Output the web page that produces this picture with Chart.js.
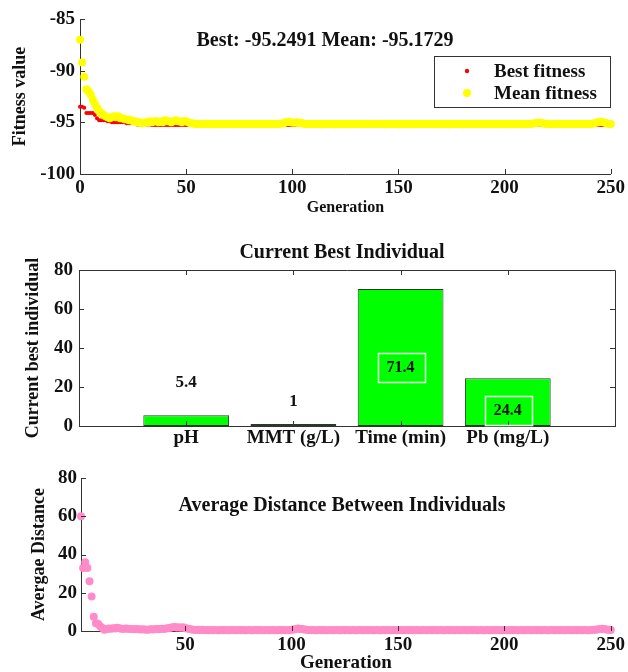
<!DOCTYPE html>
<html>
<head>
<meta charset="utf-8">
<script src="https://cdn.jsdelivr.net/npm/chart.js@4.4.1/dist/chart.umd.min.js"></script>
<style>
  html, body { margin: 0; padding: 0; background: #fff; }
  body { width: 628px; height: 672px; position: relative; overflow: hidden; }
  canvas { position: absolute; left: 0; }
</style>
</head>
<body>
<canvas id="fitness-chart" width="628" height="218" style="top:0"></canvas>
<canvas id="indiv-chart" width="628" height="222" style="top:228px"></canvas>
<canvas id="dist-chart" width="628" height="216" style="top:458px"></canvas>
<script>
// generation axis ticks
const genTicks = [0, 50, 100, 150, 200, 250];
const distGenTicks = [50, 100, 150, 200, 250];
const fitnessTicks = [-100, -95, -90, -85];
const indivTicks = [0, 20, 40, 60, 80];
const distTicks = [0, 20, 40, 60, 80];

// best fitness, generation 0..250
const bestFitness = [
  -93.5, -93.5, -93.6, -94.1, -94.1, -94.1, -94.1, -94.3, -94.6, -94.8,
  -94.8, -94.8, -94.8, -94.9, -94.9, -95.0, -95.0, -95.0, -95.0, -95.0,
  -95.0, -95.0, -95.1, -95.1, -95.1, -95.1, -95.1, -95.2, -95.2, -95.2,
  -95.2, -95.2, -95.2, -95.2, -95.25, -95.25, -95.25, -95.25, -95.25, -95.25,
  -95.25, -95.25, -95.25, -95.25, -95.25, -95.25, -95.25, -95.25, -95.25, -95.25,
  -95.25, -95.25, -95.25, -95.25, -95.25, -95.25, -95.25, -95.25, -95.25, -95.25,
  -95.25, -95.25, -95.25, -95.25, -95.25, -95.25, -95.25, -95.25, -95.25, -95.25,
  -95.25, -95.25, -95.25, -95.25, -95.25, -95.25, -95.25, -95.25, -95.25, -95.25,
  -95.25, -95.25, -95.25, -95.25, -95.25, -95.25, -95.25, -95.25, -95.25, -95.25,
  -95.25, -95.25, -95.25, -95.25, -95.25, -95.25, -95.25, -95.25, -95.25, -95.25,
  -95.25, -95.25, -95.25, -95.25, -95.25, -95.25, -95.25, -95.25, -95.25, -95.25,
  -95.25, -95.25, -95.25, -95.25, -95.25, -95.25, -95.25, -95.25, -95.25, -95.25,
  -95.25, -95.25, -95.25, -95.25, -95.25, -95.25, -95.25, -95.25, -95.25, -95.25,
  -95.25, -95.25, -95.25, -95.25, -95.25, -95.25, -95.25, -95.25, -95.25, -95.25,
  -95.25, -95.25, -95.25, -95.25, -95.25, -95.25, -95.25, -95.25, -95.25, -95.25,
  -95.25, -95.25, -95.25, -95.25, -95.25, -95.25, -95.25, -95.25, -95.25, -95.25,
  -95.25, -95.25, -95.25, -95.25, -95.25, -95.25, -95.25, -95.25, -95.25, -95.25,
  -95.25, -95.25, -95.25, -95.25, -95.25, -95.25, -95.25, -95.25, -95.25, -95.25,
  -95.25, -95.25, -95.25, -95.25, -95.25, -95.25, -95.25, -95.25, -95.25, -95.25,
  -95.25, -95.25, -95.25, -95.25, -95.25, -95.25, -95.25, -95.25, -95.25, -95.25,
  -95.25, -95.25, -95.25, -95.25, -95.25, -95.25, -95.25, -95.25, -95.25, -95.25,
  -95.25, -95.25, -95.25, -95.25, -95.25, -95.25, -95.25, -95.25, -95.25, -95.25,
  -95.25, -95.25, -95.25, -95.25, -95.25, -95.25, -95.25, -95.25, -95.25, -95.25,
  -95.25, -95.25, -95.25, -95.25, -95.25, -95.25, -95.25, -95.25, -95.25, -95.25,
  -95.25, -95.25, -95.25, -95.25, -95.25, -95.25, -95.25, -95.25, -95.25, -95.25,
  -95.2491
];

// mean fitness, generation 0..250
const meanFitness = [
  -87.0, -89.2, -90.6, -91.8, -92.0, -92.3, -92.8, -93.2, -93.6, -93.9,
  -94.1, -94.3, -94.4, -94.5, -94.6, -94.5, -94.4, -94.5, -94.4, -94.6,
  -94.6, -94.7, -94.7, -94.8, -94.8, -94.9, -94.9, -95.0, -95.0, -95.1,
  -95.1, -95.0, -95.0, -94.9, -95.0, -94.9, -94.9, -95.0, -94.9, -95.0,
  -94.8, -94.9, -94.9, -95.0, -94.9, -94.8, -94.9, -94.9, -95.0, -94.9,
  -94.9, -95.0, -95.1, -95.1, -95.15, -95.17, -95.17, -95.18, -95.17, -95.17,
  -95.17, -95.18, -95.17, -95.16, -95.17, -95.18, -95.17, -95.17, -95.16, -95.17,
  -95.17, -95.17, -95.18, -95.17, -95.16, -95.17, -95.17, -95.18, -95.17, -95.17,
  -95.16, -95.17, -95.17, -95.18, -95.17, -95.17, -95.16, -95.17, -95.18, -95.17,
  -95.17, -95.17, -95.16, -95.17, -95.15, -95.12, -95.08, -95.0, -94.95, -94.98,
  -95.02, -95.05, -95.0, -95.08, -95.05, -95.12, -95.16, -95.17, -95.17, -95.18,
  -95.17, -95.17, -95.16, -95.17, -95.18, -95.17, -95.17, -95.16, -95.17, -95.17,
  -95.18, -95.17, -95.17, -95.16, -95.17, -95.17, -95.18, -95.17, -95.17, -95.16,
  -95.17, -95.17, -95.18, -95.17, -95.17, -95.16, -95.17, -95.17, -95.18, -95.17,
  -95.17, -95.16, -95.17, -95.17, -95.18, -95.17, -95.17, -95.16, -95.17, -95.17,
  -95.18, -95.17, -95.17, -95.16, -95.17, -95.17, -95.18, -95.17, -95.17, -95.16,
  -95.17, -95.17, -95.18, -95.17, -95.17, -95.16, -95.17, -95.17, -95.18, -95.17,
  -95.17, -95.16, -95.17, -95.17, -95.18, -95.17, -95.17, -95.16, -95.17, -95.17,
  -95.18, -95.17, -95.17, -95.16, -95.17, -95.17, -95.18, -95.17, -95.17, -95.16,
  -95.17, -95.17, -95.18, -95.17, -95.17, -95.16, -95.17, -95.17, -95.18, -95.17,
  -95.16, -95.17, -95.17, -95.18, -95.17, -95.17, -95.16, -95.17, -95.17, -95.18,
  -95.17, -95.17, -95.16, -95.14, -95.1, -95.06, -95.03, -95.05, -95.1, -95.14,
  -95.17, -95.17, -95.18, -95.17, -95.17, -95.16, -95.17, -95.17, -95.18, -95.17,
  -95.17, -95.16, -95.17, -95.17, -95.18, -95.17, -95.17, -95.16, -95.17, -95.17,
  -95.17, -95.16, -95.12, -95.05, -94.98, -94.95, -94.97, -95.02, -95.1, -95.15,
  -95.1729
];

// current best individual
const paramNames = ['pH', 'MMT (g/L)', 'Time (min)', 'Pb (mg/L)'];
const paramValues = [5.5, 1, 70.3, 24.5];
const paramLabels = ['5.4', '1', '71.4', '24.4'];

// average distance, generation 1..250
const avgDistance = [
  60, 33, 36, 33, 26, 18, 7.5, 4, 3.8, 2.5,
  1.6, 0.6, 1.0, 1.3, 1.2, 1.5, 1.3, 1.7, 1.4, 1.2,
  1.1, 1.3, 1.2, 1.0, 1.1, 0.9, 1.0, 0.9, 0.8, 0.9,
  0.8, 0.7, 0.8, 0.9, 0.8, 1.0, 1.1, 1.0, 1.2, 1.1,
  1.3, 1.5, 1.7, 2.0, 2.1, 1.8, 1.9, 1.7, 2.0, 1.5,
  1.3, 1.0, 0.8, 0.6, 0.5, 0.6, 0.5, 0.6, 0.5, 0.5,
  0.4, 0.5, 0.4, 0.5, 0.4, 0.4, 0.5, 0.4, 0.5, 0.4,
  0.4, 0.5, 0.4, 0.4, 0.5, 0.4, 0.5, 0.4, 0.4, 0.5,
  0.4, 0.4, 0.5, 0.4, 0.5, 0.4, 0.4, 0.5, 0.4, 0.4,
  0.5, 0.4, 0.4, 0.5, 0.4, 0.5, 0.4, 0.4, 0.5, 0.6,
  0.8, 1.1, 1.3, 1.1, 1.0, 0.8, 0.6, 0.5, 0.4, 0.5,
  0.4, 0.4, 0.5, 0.4, 0.5, 0.4, 0.4, 0.5, 0.4, 0.4,
  0.5, 0.4, 0.4, 0.5, 0.4, 0.5, 0.4, 0.4, 0.5, 0.4,
  0.4, 0.5, 0.4, 0.4, 0.5, 0.4, 0.5, 0.4, 0.4, 0.5,
  0.4, 0.4, 0.5, 0.4, 0.5, 0.4, 0.4, 0.5, 0.4, 0.4,
  0.5, 0.4, 0.4, 0.5, 0.4, 0.5, 0.4, 0.4, 0.5, 0.4,
  0.4, 0.5, 0.4, 0.4, 0.5, 0.4, 0.5, 0.4, 0.4, 0.5,
  0.4, 0.4, 0.5, 0.4, 0.5, 0.4, 0.4, 0.5, 0.4, 0.4,
  0.5, 0.4, 0.4, 0.5, 0.4, 0.5, 0.4, 0.4, 0.5, 0.4,
  0.4, 0.5, 0.4, 0.4, 0.5, 0.4, 0.5, 0.4, 0.4, 0.5,
  0.4, 0.4, 0.5, 0.4, 0.5, 0.4, 0.4, 0.5, 0.4, 0.4,
  0.5, 0.4, 0.4, 0.5, 0.4, 0.5, 0.4, 0.4, 0.5, 0.4,
  0.4, 0.5, 0.4, 0.4, 0.5, 0.4, 0.5, 0.4, 0.4, 0.5,
  0.4, 0.4, 0.5, 0.4, 0.5, 0.4, 0.4, 0.5, 0.4, 0.4,
  0.5, 0.6, 0.7, 0.9, 1.1, 1.2, 1.0, 0.8, 0.6, 0.5
];

const serif = '"Liberation Serif", "Times New Roman", serif';
Chart.defaults.font.family = serif;
Chart.defaults.font.weight = 'bold';
Chart.defaults.font.size = 19;
Chart.defaults.color = '#111';

const axisColor = '#333';

// matlab style: ticks pointing into the plot, optional full box
function matlabAxes(xVals, yVals, box) {
  return {
    id: 'matlabAxes',
    afterDatasetsDraw(chart) {
      const {ctx, chartArea: a, scales: {x, y}} = chart;
      ctx.save();
      ctx.strokeStyle = axisColor;
      ctx.lineWidth = 1;
      ctx.beginPath();
      xVals.forEach(v => {
        const p = Math.round(x.getPixelForValue(v)) + 0.5;
        ctx.moveTo(p, a.bottom); ctx.lineTo(p, a.bottom - 5);
        if (box) { ctx.moveTo(p, a.top); ctx.lineTo(p, a.top + 5); }
      });
      yVals.forEach(v => {
        const p = Math.round(y.getPixelForValue(v)) + 0.5;
        ctx.moveTo(a.left, p); ctx.lineTo(a.left + 5, p);
        if (box) { ctx.moveTo(a.right, p); ctx.lineTo(a.right - 5, p); }
      });
      if (box) {
        ctx.rect(Math.round(a.left) + 0.5, Math.round(a.top) + 0.5,
                 Math.round(a.right - a.left), Math.round(a.bottom - a.top));
      }
      ctx.stroke();
      ctx.restore();
    }
  };
}

function overlay(draw) {
  return {
    id: 'overlay',
    afterDraw(chart) {
      const ctx = chart.ctx;
      ctx.save();
      draw(chart, ctx);
      ctx.restore();
    }
  };
}

function baseScale(extra) {
  return Object.assign({
    grid: { display: false, drawTicks: false, tickLength: 0 },
    border: { display: true, color: axisColor, width: 1 },
  }, extra);
}

const commonOpts = {
  responsive: false,
  animation: false,
  events: [],
  plugins: { legend: { display: false }, tooltip: { enabled: false } }
};

// ---------- fitness ----------
new Chart(document.getElementById('fitness-chart'), {
  type: 'scatter',
  data: {
    datasets: [{
      label: 'Best fitness',
      data: bestFitness.map((v, i) => ({x: i, y: v})),
      backgroundColor: '#ff0000',
      borderWidth: 0,
      pointRadius: 2,
      order: 2,
      clip: false
    }, {
      label: 'Mean fitness',
      data: meanFitness.map((v, i) => ({x: i, y: v})),
      backgroundColor: '#ffff00',
      borderWidth: 0,
      pointRadius: 4,
      order: 1,
      clip: false
    }]
  },
  options: {
    ...commonOpts,
    layout: { padding: { top: 19, right: 16, left: 0, bottom: 0 } },
    scales: {
      x: baseScale({
        type: 'linear', min: 0, max: 250,
        afterFit: s => { s.height = 44; },
        afterBuildTicks: s => { s.ticks = genTicks.map(v => ({value: v})); },
        ticks: { padding: 3, maxRotation: 0, autoSkip: false },
        title: { display: true, text: 'Generation', font: { size: 16 }, padding: { top: 0, bottom: 1 } }
      }),
      y: baseScale({
        min: -100, max: -85,
        afterFit: s => { s.width = 80; },
        afterBuildTicks: s => { s.ticks = fitnessTicks.map(v => ({value: v})); },
        ticks: { padding: 5 },
        title: { display: true, text: 'Fitness value', font: { size: 18 }, padding: { top: 10, bottom: 0 } }
      })
    }
  },
  plugins: [matlabAxes(genTicks, fitnessTicks, false), overlay((chart, ctx) => {
    ctx.fillStyle = '#111';
    ctx.font = 'bold 20px ' + serif;
    ctx.textAlign = 'center';
    ctx.textBaseline = 'middle';
    ctx.fillText('Best: -95.2491 Mean: -95.1729', 325, 41);
    // legend
    ctx.strokeStyle = axisColor;
    ctx.lineWidth = 1;
    ctx.strokeRect(434.5, 56.5, 176, 51);
    ctx.fillStyle = '#ff0000';
    ctx.beginPath(); ctx.arc(467, 71, 2.2, 0, Math.PI * 2); ctx.fill();
    ctx.fillStyle = '#ffff00';
    ctx.beginPath(); ctx.arc(467, 93, 4, 0, Math.PI * 2); ctx.fill();
    ctx.fillStyle = '#111';
    ctx.font = 'bold 19px ' + serif;
    ctx.textAlign = 'left';
    ctx.fillText('Best fitness', 494, 72);
    ctx.fillText('Mean fitness', 494, 94);
  })]
});

// ---------- current best individual ----------
new Chart(document.getElementById('indiv-chart'), {
  type: 'bar',
  data: {
    datasets: [{
      data: paramValues.map((v, i) => ({x: i + 1, y: v})),
      backgroundColor: '#00ff00',
      borderColor: '#2a3a2a',
      borderWidth: 1,
      borderSkipped: false,
      barPercentage: 1,
      categoryPercentage: 0.8
    }]
  },
  options: {
    ...commonOpts,
    layout: { padding: { top: 42, right: 13, left: 0, bottom: 0 } },
    scales: {
      x: baseScale({
        type: 'linear', min: 0, max: 5, offset: false,
        grid: { display: false, drawTicks: false, tickLength: 0, offset: false },
        afterFit: s => { s.height = 24; },
        afterBuildTicks: s => { s.ticks = paramNames.map((n, i) => ({value: i + 1})); },
        ticks: { padding: 1, maxRotation: 0, autoSkip: false, callback: v => paramNames[v - 1] || '' }
      }),
      y: baseScale({
        min: 0, max: 80,
        afterFit: s => { s.width = 79; },
        afterBuildTicks: s => { s.ticks = indivTicks.map(v => ({value: v})); },
        ticks: { padding: 6 },
        title: { display: true, text: 'Current best individual', font: { size: 18 }, padding: { top: 23, bottom: 0 } }
      })
    }
  },
  plugins: [matlabAxes([1, 2, 3, 4], indivTicks, true), overlay((chart, ctx) => {
    const {x, y} = chart.scales;
    ctx.fillStyle = '#111';
    ctx.textAlign = 'center';
    ctx.textBaseline = 'middle';
    ctx.font = 'bold 20px ' + serif;
    ctx.fillText('Current Best Individual', 342, 25);
    // value labels: [value level, boxed]
    const place = [[22.6, false], [12.8, false], [30.3, true], [8.2, true]];
    paramLabels.forEach((t, i) => {
      const px = x.getPixelForValue(i + 1);
      const py = y.getPixelForValue(place[i][0]);
      if (place[i][1]) {
        ctx.strokeStyle = '#e8ffe8';
        ctx.lineWidth = 1.5;
        ctx.strokeRect(Math.round(px - 23) + 0.5, Math.round(py - 14) + 0.5, 47, 29);
        ctx.font = 'bold 16px ' + serif;
      } else {
        ctx.font = 'bold 17px ' + serif;
      }
      ctx.fillStyle = '#111';
      ctx.fillText(t, px, py + 1);
    });
  })]
});

// ---------- average distance ----------
new Chart(document.getElementById('dist-chart'), {
  type: 'scatter',
  data: {
    datasets: [{
      data: avgDistance.map((v, i) => ({x: i + 1, y: v})),
      backgroundColor: '#ff8cc8',
      borderWidth: 0,
      pointRadius: 4,
      clip: false
    }]
  },
  options: {
    ...commonOpts,
    layout: { padding: { top: 20, right: 16, left: 0, bottom: 0 } },
    scales: {
      x: baseScale({
        type: 'linear', min: 1, max: 250,
        afterFit: s => { s.height = 43; },
        afterBuildTicks: s => { s.ticks = distGenTicks.map(v => ({value: v})); },
        ticks: { padding: 3, maxRotation: 0, autoSkip: false },
        title: { display: true, text: 'Generation', font: { size: 19 }, padding: { top: 0, bottom: 0 } }
      }),
      y: baseScale({
        min: 0, max: 80,
        afterFit: s => { s.width = 81; },
        afterBuildTicks: s => { s.ticks = distTicks.map(v => ({value: v})); },
        ticks: { padding: 4 },
        title: { display: true, text: 'Avergae Distance', font: { size: 18 }, padding: { top: 29, bottom: 0 } }
      })
    }
  },
  plugins: [matlabAxes(distGenTicks, distTicks, false), overlay((chart, ctx) => {
    ctx.fillStyle = '#111';
    ctx.font = 'bold 20px ' + serif;
    ctx.textAlign = 'center';
    ctx.textBaseline = 'middle';
    ctx.fillText('Average Distance Between Individuals', 342, 48);
  })]
});
</script>
</body>
</html>
